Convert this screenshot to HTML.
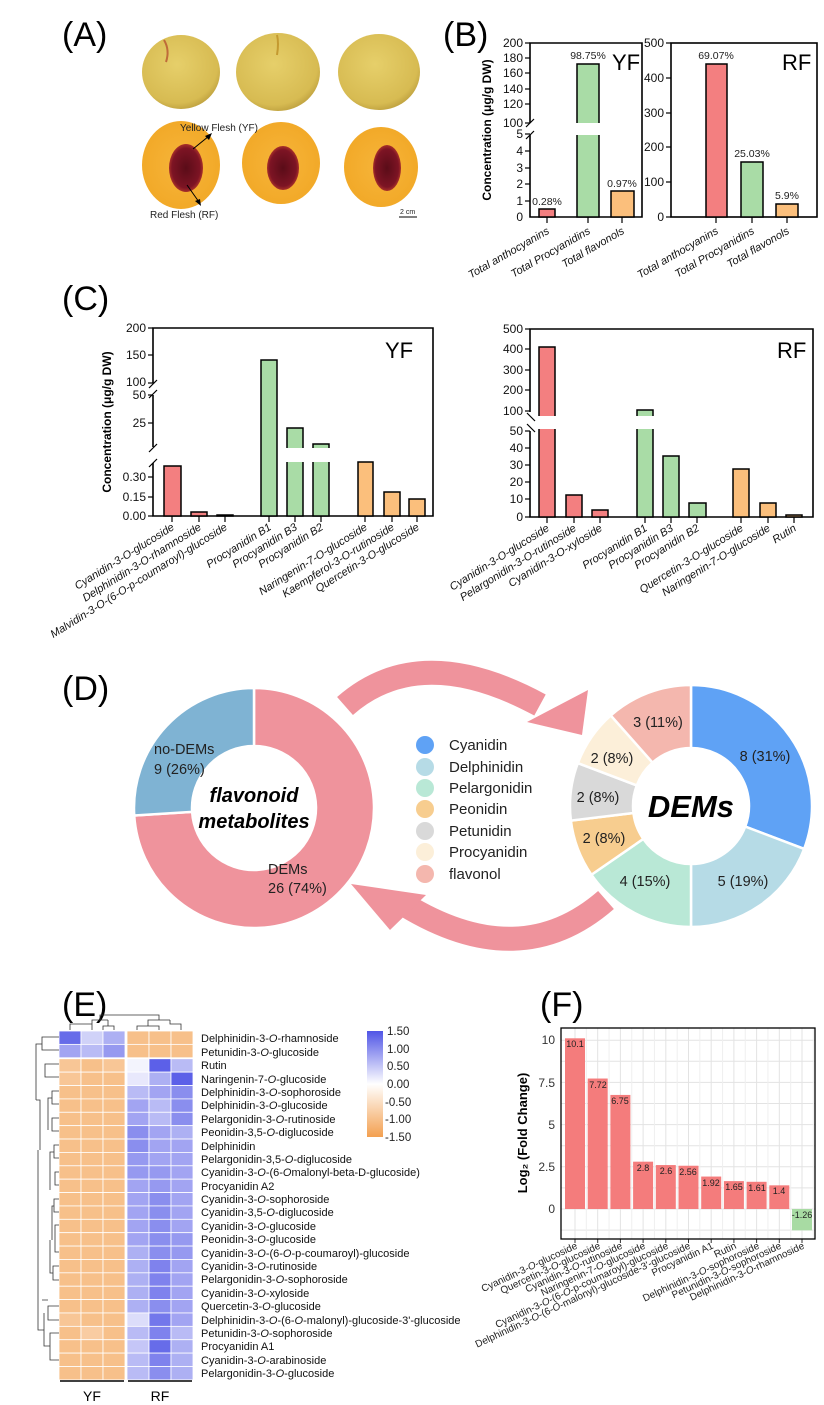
<!DOCTYPE html>
<html><head><meta charset="utf-8">
<style>
html,body{margin:0;padding:0;background:#fff;}
svg{display:block;font-family:"Liberation Sans",Arial,sans-serif;}
.t{font-size:12px;fill:#111}
.lb{font-size:11px;font-style:italic;fill:#111}
.pl{font-size:34px;fill:#000}
</style></head><body>
<svg id="s" width="824" height="1405" viewBox="0 0 824 1405" xmlns="http://www.w3.org/2000/svg">
<rect width="824" height="1405" fill="#fff"/>
<!-- Panel labels -->
<text class="pl" x="62" y="46">(A)</text>
<text class="pl" x="443" y="46">(B)</text>
<text class="pl" x="62" y="310">(C)</text>
<text class="pl" x="62" y="700">(D)</text>
<text class="pl" x="62" y="1016">(E)</text>
<text class="pl" x="540" y="1016">(F)</text>

<!-- Panel A -->
<defs>
<radialGradient id="skin" cx="0.45" cy="0.4" r="0.65"><stop offset="0" stop-color="#e6cf6a"/><stop offset="0.8" stop-color="#d7bb52"/><stop offset="1" stop-color="#b89a3a"/></radialGradient>
<radialGradient id="flesh" cx="0.5" cy="0.5" r="0.6"><stop offset="0" stop-color="#f6b53a"/><stop offset="0.85" stop-color="#f2a928"/><stop offset="1" stop-color="#e6c060"/></radialGradient>
<radialGradient id="stone" cx="0.5" cy="0.5" r="0.55"><stop offset="0" stop-color="#5a0c18"/><stop offset="0.75" stop-color="#7d1424"/><stop offset="1" stop-color="#c0402c"/></radialGradient>
</defs>
<ellipse cx="181" cy="72" rx="39" ry="37" fill="url(#skin)"/>
<ellipse cx="278" cy="72" rx="42" ry="39" fill="url(#skin)"/>
<ellipse cx="379" cy="72" rx="41" ry="38" fill="url(#skin)"/>
<path d="M166 62 q4 -12 -2 -22" stroke="#b0442a" stroke-width="2" fill="none" opacity=".7"/>
<path d="M277 55 q2 -12 0 -20" stroke="#c49a30" stroke-width="2" fill="none"/>
<ellipse cx="181" cy="165" rx="39" ry="44" fill="url(#flesh)"/>
<ellipse cx="281" cy="163" rx="39" ry="41" fill="url(#flesh)"/>
<ellipse cx="381" cy="167" rx="37" ry="40" fill="url(#flesh)"/>
<ellipse cx="186" cy="168" rx="17" ry="24" fill="url(#stone)"/>
<ellipse cx="283" cy="168" rx="16" ry="22" fill="url(#stone)"/>
<ellipse cx="387" cy="168" rx="14" ry="23" fill="url(#stone)"/>
<text x="180" y="131" font-size="10" fill="#222">Yellow Flesh (YF)</text>
<line x1="193" y1="149" x2="209" y2="136" stroke="#000" stroke-width="1"/>
<polygon points="212,133 205,136 209,140" fill="#000"/>
<line x1="187" y1="185" x2="199" y2="202" stroke="#000" stroke-width="1"/>
<polygon points="201,206 195,201 200,199" fill="#000"/>
<text x="150" y="218" font-size="10" fill="#222">Red Flesh (RF)</text>
<text x="400" y="214" font-size="7" fill="#222">2 cm</text>
<line x1="399" y1="217" x2="417" y2="217" stroke="#000" stroke-width="1"/>

<!-- Panel B YF -->
<g stroke="#000" stroke-width="1.6" fill="none">
<path d="M530 123 V43 H642 V217 H530 V135"/>
</g>
<g stroke="#000" stroke-width="1.2">
<line x1="525" y1="43" x2="530" y2="43"/><line x1="525" y1="58" x2="530" y2="58"/><line x1="525" y1="73" x2="530" y2="73"/><line x1="525" y1="89" x2="530" y2="89"/><line x1="525" y1="104" x2="530" y2="104"/><line x1="525" y1="123" x2="530" y2="123"/>
<line x1="525" y1="134" x2="530" y2="134"/><line x1="525" y1="151" x2="530" y2="151"/><line x1="525" y1="168" x2="530" y2="168"/><line x1="525" y1="184" x2="530" y2="184"/><line x1="525" y1="201" x2="530" y2="201"/>
<line x1="526" y1="127" x2="534" y2="119"/><line x1="526" y1="139" x2="534" y2="131"/>
<line x1="547" y1="217" x2="547" y2="223"/><line x1="588" y1="217" x2="588" y2="223"/><line x1="622" y1="217" x2="622" y2="223"/>
</g>
<g class="t" text-anchor="end">
<text x="523" y="47">200</text><text x="523" y="62">180</text><text x="523" y="77">160</text><text x="523" y="93">140</text><text x="523" y="108">120</text><text x="523" y="127">100</text>
<text x="523" y="138">5</text><text x="523" y="155">4</text><text x="523" y="172">3</text><text x="523" y="188">2</text><text x="523" y="205">1</text><text x="523" y="221">0</text>
</g>
<g stroke="#000" stroke-width="1.5">
<rect x="539" y="209" width="16" height="8" fill="#f37f80"/>
<rect x="577" y="64" width="22" height="153" fill="#a9dca6"/>
<rect x="611" y="191" width="23" height="26" fill="#fbbf7c"/>
</g>
<rect x="574" y="123" width="28" height="12" fill="#fff"/>
<g font-size="10.5" fill="#222" text-anchor="middle">
<text x="547" y="205">0.28%</text><text x="588" y="59">98.75%</text><text x="622" y="187">0.97%</text>
</g>
<text x="612" y="70" font-size="22" fill="#000">YF</text>
<text transform="translate(491,130) rotate(-90)" text-anchor="middle" font-size="12" font-weight="bold">Concentration (μg/g DW)</text>
<g class="lb" text-anchor="end">
<text transform="translate(550,233) rotate(-30)">Total anthocyanins</text>
<text transform="translate(591,233) rotate(-30)">Total Procyanidins</text>
<text transform="translate(625,233) rotate(-30)">Total flavonols</text>
</g>

<!-- Panel B RF -->
<rect x="671" y="43" width="146" height="174" fill="none" stroke="#000" stroke-width="1.6"/>
<g stroke="#000" stroke-width="1.2">
<line x1="666" y1="43" x2="671" y2="43"/><line x1="666" y1="78" x2="671" y2="78"/><line x1="666" y1="113" x2="671" y2="113"/><line x1="666" y1="147" x2="671" y2="147"/><line x1="666" y1="182" x2="671" y2="182"/><line x1="666" y1="217" x2="671" y2="217"/>
<line x1="716" y1="217" x2="716" y2="223"/><line x1="752" y1="217" x2="752" y2="223"/><line x1="787" y1="217" x2="787" y2="223"/>
</g>
<g class="t" text-anchor="end">
<text x="664" y="47">500</text><text x="664" y="82">400</text><text x="664" y="117">300</text><text x="664" y="151">200</text><text x="664" y="186">100</text><text x="664" y="221">0</text>
</g>
<g stroke="#000" stroke-width="1.5">
<rect x="706" y="64" width="21" height="153" fill="#f37f80"/>
<rect x="741" y="162" width="22" height="55" fill="#a9dca6"/>
<rect x="776" y="204" width="22" height="13" fill="#fbbf7c"/>
</g>
<g font-size="10.5" fill="#222" text-anchor="middle">
<text x="716" y="59">69.07%</text><text x="752" y="157">25.03%</text><text x="787" y="199">5.9%</text>
</g>
<text x="782" y="70" font-size="22" fill="#000">RF</text>
<g class="lb" text-anchor="end">
<text transform="translate(719,233) rotate(-30)">Total anthocyanins</text>
<text transform="translate(755,233) rotate(-30)">Total Procyanidins</text>
<text transform="translate(790,233) rotate(-30)">Total flavonols</text>
</g>

<!-- Panel C YF -->
<path d="M153 383 V328 H433 V516 H153 V463" fill="none" stroke="#000" stroke-width="1.6"/>
<line x1="153" y1="395" x2="153" y2="447" stroke="#000" stroke-width="1.6"/>
<g stroke="#000" stroke-width="1.2">
<line x1="148" y1="328" x2="153" y2="328"/><line x1="148" y1="355" x2="153" y2="355"/><line x1="148" y1="383" x2="153" y2="383"/><line x1="148" y1="395" x2="153" y2="395"/><line x1="148" y1="423" x2="153" y2="423"/><line x1="148" y1="477" x2="153" y2="477"/><line x1="148" y1="497" x2="153" y2="497"/><line x1="148" y1="516" x2="153" y2="516"/>
<line x1="149" y1="388" x2="157" y2="380"/><line x1="149" y1="398" x2="157" y2="390"/>
<line x1="149" y1="452" x2="157" y2="444"/><line x1="149" y1="467" x2="157" y2="459"/>
<line x1="172" y1="516" x2="172" y2="522"/><line x1="199" y1="516" x2="199" y2="522"/><line x1="225" y1="516" x2="225" y2="522"/><line x1="269" y1="516" x2="269" y2="522"/><line x1="295" y1="516" x2="295" y2="522"/><line x1="321" y1="516" x2="321" y2="522"/><line x1="365" y1="516" x2="365" y2="522"/><line x1="392" y1="516" x2="392" y2="522"/><line x1="417" y1="516" x2="417" y2="522"/>
</g>
<g class="t" text-anchor="end">
<text x="146" y="332">200</text><text x="146" y="359">150</text><text x="146" y="386">100</text><text x="146" y="399">50</text><text x="146" y="427">25</text><text x="146" y="481">0.30</text><text x="146" y="501">0.15</text><text x="146" y="520">0.00</text>
</g>
<g stroke="#000" stroke-width="1.5">
<rect x="164" y="466" width="17" height="50" fill="#f37f80"/>
<rect x="191" y="512" width="16" height="4" fill="#f37f80"/>
<rect x="217" y="515" width="16" height="1" fill="#f37f80"/>
<rect x="261" y="360" width="16" height="156" fill="#a9dca6"/>
<rect x="287" y="428" width="16" height="88" fill="#a9dca6"/>
<rect x="313" y="444" width="16" height="72" fill="#a9dca6"/>
<rect x="358" y="462" width="15" height="54" fill="#fbbf7c"/>
<rect x="384" y="492" width="16" height="24" fill="#fbbf7c"/>
<rect x="409" y="499" width="16" height="17" fill="#fbbf7c"/>
</g>
<rect x="284" y="448" width="48" height="14" fill="#fff"/>
<text x="385" y="358" font-size="22" fill="#000">YF</text>
<text transform="translate(111,422) rotate(-90)" text-anchor="middle" font-size="12" font-weight="bold">Concentration (μg/g DW)</text>
<g class="lb" text-anchor="end" font-size="10.5">
<text transform="translate(175,529) rotate(-32)">Cyanidin-3-O-glucoside</text>
<text transform="translate(202,529) rotate(-32)">Delphinidin-3-O-rhamnoside</text>
<text transform="translate(228,529) rotate(-32)">Malvidin-3-O-(6-O-p-coumaroyl)-glucoside</text>
<text transform="translate(272,529) rotate(-32)">Procyanidin B1</text>
<text transform="translate(298,529) rotate(-32)">Procyanidin B3</text>
<text transform="translate(324,529) rotate(-32)">Procyanidin B2</text>
<text transform="translate(368,529) rotate(-32)">Naringenin-7-O-glucoside</text>
<text transform="translate(395,529) rotate(-32)">Kaempferol-3-O-rutinoside</text>
<text transform="translate(420,529) rotate(-32)">Quercetin-3-O-glucoside</text>
</g>

<!-- Panel C RF -->
<path d="M530 412 V329 H813 V517 H530 V431" fill="none" stroke="#000" stroke-width="1.6"/>
<g stroke="#000" stroke-width="1.2">
<line x1="525" y1="329" x2="530" y2="329"/><line x1="525" y1="349" x2="530" y2="349"/><line x1="525" y1="370" x2="530" y2="370"/><line x1="525" y1="390" x2="530" y2="390"/><line x1="525" y1="411" x2="530" y2="411"/>
<line x1="525" y1="431" x2="530" y2="431"/><line x1="525" y1="448" x2="530" y2="448"/><line x1="525" y1="465" x2="530" y2="465"/><line x1="525" y1="482" x2="530" y2="482"/><line x1="525" y1="499" x2="530" y2="499"/><line x1="525" y1="517" x2="530" y2="517"/>
<line x1="527" y1="413" x2="535" y2="421"/><line x1="527" y1="424" x2="535" y2="432"/>
<line x1="547" y1="517" x2="547" y2="523"/><line x1="574" y1="517" x2="574" y2="523"/><line x1="600" y1="517" x2="600" y2="523"/><line x1="645" y1="517" x2="645" y2="523"/><line x1="671" y1="517" x2="671" y2="523"/><line x1="697" y1="517" x2="697" y2="523"/><line x1="741" y1="517" x2="741" y2="523"/><line x1="768" y1="517" x2="768" y2="523"/><line x1="794" y1="517" x2="794" y2="523"/>
</g>
<g class="t" text-anchor="end">
<text x="523" y="333">500</text><text x="523" y="353">400</text><text x="523" y="374">300</text><text x="523" y="394">200</text><text x="523" y="415">100</text>
<text x="523" y="435">50</text><text x="523" y="452">40</text><text x="523" y="469">30</text><text x="523" y="486">20</text><text x="523" y="503">10</text><text x="523" y="521">0</text>
</g>
<g stroke="#000" stroke-width="1.5">
<rect x="539" y="347" width="16" height="170" fill="#f37f80"/>
<rect x="566" y="495" width="16" height="22" fill="#f37f80"/>
<rect x="592" y="510" width="16" height="7" fill="#f37f80"/>
<rect x="637" y="410" width="16" height="107" fill="#a9dca6"/>
<rect x="663" y="456" width="16" height="61" fill="#a9dca6"/>
<rect x="689" y="503" width="17" height="14" fill="#a9dca6"/>
<rect x="733" y="469" width="16" height="48" fill="#fbbf7c"/>
<rect x="760" y="503" width="16" height="14" fill="#fbbf7c"/>
<rect x="786" y="515" width="16" height="2" fill="#fbbf7c"/>
</g>
<rect x="536" y="416" width="22" height="13" fill="#fff"/>
<rect x="634" y="416" width="22" height="13" fill="#fff"/>
<text x="777" y="358" font-size="22" fill="#000">RF</text>
<g class="lb" text-anchor="end" font-size="10.5">
<text transform="translate(550,530) rotate(-32)">Cyanidin-3-O-glucoside</text>
<text transform="translate(577,530) rotate(-32)">Pelargonidin-3-O-rutinoside</text>
<text transform="translate(603,530) rotate(-32)">Cyanidin-3-O-xyloside</text>
<text transform="translate(648,530) rotate(-32)">Procyanidin B1</text>
<text transform="translate(674,530) rotate(-32)">Procyanidin B3</text>
<text transform="translate(700,530) rotate(-32)">Procyanidin B2</text>
<text transform="translate(744,530) rotate(-32)">Quercetin-3-O-glucoside</text>
<text transform="translate(771,530) rotate(-32)">Naringenin-7-O-glucoside</text>
<text transform="translate(797,530) rotate(-32)">Rutin</text>
</g>

<!-- Panel D -->
<g id="donuts"></g>
<path d="M345 706 Q420 640 540 705" stroke="#ef939c" stroke-width="24" fill="none"/>
<polygon points="527,722 588,690 582,735" fill="#ef939c"/>
<path d="M606 900 Q520 975 405 905" stroke="#ef939c" stroke-width="24" fill="none"/>
<polygon points="351,884 426,895 390,930" fill="#ef939c"/>
<g font-size="14.5" fill="#222">
<text x="154" y="754">no-DEMs</text><text x="154" y="774">9 (26%)</text>
<text x="268" y="874">DEMs</text><text x="268" y="893">26 (74%)</text>
</g>
<g font-size="20" font-weight="bold" font-style="italic" text-anchor="middle" fill="#000">
<text x="254" y="802">flavonoid</text><text x="254" y="828">metabolites</text>
</g>
<text x="691" y="817" font-size="31" font-weight="bold" font-style="italic" text-anchor="middle">DEMs</text>
<g font-size="14.5" fill="#222" text-anchor="middle">
<text x="658" y="727">3 (11%)</text><text x="765" y="761">8 (31%)</text><text x="612" y="763">2 (8%)</text>
<text x="598" y="802">2 (8%)</text><text x="604" y="843">2 (8%)</text><text x="645" y="886">4 (15%)</text><text x="743" y="886">5 (19%)</text>
</g>
<g font-size="15" fill="#222">
<circle cx="425" cy="745" r="9" fill="#5fa2f5"/><text x="449" y="750">Cyanidin</text>
<circle cx="425" cy="767" r="9" fill="#b6dbe6"/><text x="449" y="772">Delphinidin</text>
<circle cx="425" cy="788" r="9" fill="#b9e8d6"/><text x="449" y="793">Pelargonidin</text>
<circle cx="425" cy="809" r="9" fill="#f7cd8f"/><text x="449" y="814">Peonidin</text>
<circle cx="425" cy="831" r="9" fill="#d9d9d9"/><text x="449" y="836">Petunidin</text>
<circle cx="425" cy="852" r="9" fill="#fcefd9"/><text x="449" y="857">Procyanidin</text>
<circle cx="425" cy="874" r="9" fill="#f4b7ae"/><text x="449" y="879">flavonol</text>
</g>

<!-- Panel E -->
<g id="heat"></g>
<g stroke="#333" stroke-width="0.8" fill="none">
<path d="M70 1030 V1024 H92 V1030 M92 1024 V1020 H108 M114 1030 V1026 H103 V1030 M108 1026 V1020"/>
<path d="M137 1030 V1026 H159 V1030 M148 1026 V1020 H170 M181 1030 V1024 H170 V1020"/>
<path d="M100 1020 V1015 H159 V1020"/>
<path d="M59 1037 H42 V1050 H59 M42 1044 H36 V1100 M59 1064 H45 V1077 H59 M59 1091 H52 V1104 H59 M52 1098 H48 V1130 M59 1118 H52 V1131 H59 M59 1145 H54 V1158 H59 M54 1152 H50 V1190 M59 1172 H55 V1185 H59 M59 1199 H54 V1212 H59 M54 1206 H52 V1240 M59 1225 H55 V1252 H59 M59 1266 H53 V1280 H59 M53 1273 H50 V1240 M59 1306 H48 V1320 H59 M59 1333 H50 V1360 H59 M50 1346 H44 V1313 M36 1100 H40 V1150 M44 1330 H38 V1150 M48 1300 H42"/>
</g>
<defs><linearGradient id="cb" x1="0" y1="0" x2="0" y2="1"><stop offset="0" stop-color="#5055e6"/><stop offset="0.5" stop-color="#ffffff"/><stop offset="1" stop-color="#f3a050"/></linearGradient></defs>
<rect x="367" y="1031" width="16" height="106" fill="url(#cb)"/>
<g font-size="11.5" fill="#222">
<text x="387" y="1035">1.50</text><text x="387" y="1053">1.00</text><text x="387" y="1070">0.50</text><text x="387" y="1088">0.00</text><text x="385" y="1106">-0.50</text><text x="385" y="1123">-1.00</text><text x="385" y="1141">-1.50</text>
</g>
<g font-size="11" fill="#111">
<text x="201" y="1042">Delphinidin-3-<tspan font-style="italic">O</tspan>-rhamnoside</text>
<text x="201" y="1056">Petunidin-3-<tspan font-style="italic">O</tspan>-glucoside</text>
<text x="201" y="1069">Rutin</text>
<text x="201" y="1083">Naringenin-7-<tspan font-style="italic">O</tspan>-glucoside</text>
<text x="201" y="1096">Delphinidin-3-<tspan font-style="italic">O</tspan>-sophoroside</text>
<text x="201" y="1109">Delphinidin-3-<tspan font-style="italic">O</tspan>-glucoside</text>
<text x="201" y="1123">Pelargonidin-3-<tspan font-style="italic">O</tspan>-rutinoside</text>
<text x="201" y="1136">Peonidin-3,5-<tspan font-style="italic">O</tspan>-diglucoside</text>
<text x="201" y="1150">Delphinidin</text>
<text x="201" y="1163">Pelargonidin-3,5-<tspan font-style="italic">O</tspan>-diglucoside</text>
<text x="201" y="1176">Cyanidin-3-<tspan font-style="italic">O</tspan>-(6-<tspan font-style="italic">O</tspan>malonyl-beta-D-glucoside)</text>
<text x="201" y="1190">Procyanidin A2</text>
<text x="201" y="1203">Cyanidin-3-<tspan font-style="italic">O</tspan>-sophoroside</text>
<text x="201" y="1216">Cyanidin-3,5-<tspan font-style="italic">O</tspan>-diglucoside</text>
<text x="201" y="1230">Cyanidin-3-<tspan font-style="italic">O</tspan>-glucoside</text>
<text x="201" y="1243">Peonidin-3-<tspan font-style="italic">O</tspan>-glucoside</text>
<text x="201" y="1257">Cyanidin-3-<tspan font-style="italic">O</tspan>-(6-<tspan font-style="italic">O</tspan>-p-coumaroyl)-glucoside</text>
<text x="201" y="1270">Cyanidin-3-<tspan font-style="italic">O</tspan>-rutinoside</text>
<text x="201" y="1283">Pelargonidin-3-<tspan font-style="italic">O</tspan>-sophoroside</text>
<text x="201" y="1297">Cyanidin-3-<tspan font-style="italic">O</tspan>-xyloside</text>
<text x="201" y="1310">Quercetin-3-<tspan font-style="italic">O</tspan>-glucoside</text>
<text x="201" y="1324">Delphinidin-3-<tspan font-style="italic">O</tspan>-(6-<tspan font-style="italic">O</tspan>-malonyl)-glucoside-3'-glucoside</text>
<text x="201" y="1337">Petunidin-3-<tspan font-style="italic">O</tspan>-sophoroside</text>
<text x="201" y="1350">Procyanidin A1</text>
<text x="201" y="1364">Cyanidin-3-<tspan font-style="italic">O</tspan>-arabinoside</text>
<text x="201" y="1377">Pelargonidin-3-<tspan font-style="italic">O</tspan>-glucoside</text>
</g>
<line x1="60" y1="1381" x2="124" y2="1381" stroke="#000" stroke-width="1.5"/>
<line x1="128" y1="1381" x2="192" y2="1381" stroke="#000" stroke-width="1.5"/>
<text x="92" y="1401" font-size="14" text-anchor="middle">YF</text>
<text x="160" y="1401" font-size="14" text-anchor="middle">RF</text>

<!-- Panel F -->
<rect x="561" y="1028" width="254" height="211" fill="#fff"/>
<g id="fgrid" stroke="#e3e3e3" stroke-width="1"></g>
<g id="fbars"></g>
<rect x="561" y="1028" width="254" height="211" fill="none" stroke="#000" stroke-width="1.3"/>
<g font-size="12" fill="#333" text-anchor="end">
<text x="555" y="1044">10</text><text x="555" y="1087">7.5</text><text x="555" y="1129">5</text><text x="555" y="1171">2.5</text><text x="555" y="1213">0</text>
</g>
<text transform="translate(527,1133) rotate(-90)" text-anchor="middle" font-size="13" font-weight="bold">Log₂ (Fold Change)</text>
<g font-size="9" fill="#222" text-anchor="middle">
<text x="575" y="1047">10.1</text><text x="598" y="1088">7.72</text><text x="620" y="1104">6.75</text><text x="643" y="1171">2.8</text><text x="666" y="1174">2.6</text><text x="688" y="1175">2.56</text><text x="711" y="1186">1.92</text><text x="734" y="1190">1.65</text><text x="757" y="1191">1.61</text><text x="779" y="1194">1.4</text><text x="802" y="1218">-1.26</text>
</g>
<g font-size="10" fill="#222" text-anchor="end">
<text transform="translate(578,1248) rotate(-25)">Cyanidin-3-<tspan font-style="italic">O</tspan>-glucoside</text>
<text transform="translate(601,1248) rotate(-25)">Quercetin-3-<tspan font-style="italic">O</tspan>-glucoside</text>
<text transform="translate(623,1248) rotate(-25)">Cyanidin-3-<tspan font-style="italic">O</tspan>-rutinoside</text>
<text transform="translate(646,1248) rotate(-25)">Naringenin-7-<tspan font-style="italic">O</tspan>-glucoside</text>
<text transform="translate(669,1248) rotate(-25)">Cyanidin-3-<tspan font-style="italic">O</tspan>-(6-<tspan font-style="italic">O</tspan>-p-coumaroyl)-glucoside</text>
<text transform="translate(691,1248) rotate(-25)">Delphinidin-3-<tspan font-style="italic">O</tspan>-(6-<tspan font-style="italic">O</tspan>-malonyl)-glucoside-3'-glucoside</text>
<text transform="translate(714,1248) rotate(-25)">Procyanidin A1</text>
<text transform="translate(737,1248) rotate(-25)">Rutin</text>
<text transform="translate(760,1248) rotate(-25)">Delphinidin-3-<tspan font-style="italic">O</tspan>-sophoroside</text>
<text transform="translate(782,1248) rotate(-25)">Petunidin-3-<tspan font-style="italic">O</tspan>-sophoroside</text>
<text transform="translate(805,1248) rotate(-25)">Delphinidin-3-<tspan font-style="italic">O</tspan>-rhamnoside</text>
</g>
</svg>
<script>
(function(){
var NS="http://www.w3.org/2000/svg";
function el(p,t,a){var e=document.createElementNS(NS,t);for(var k in a)e.setAttribute(k,a[k]);p.appendChild(e);return e;}
var dg=document.getElementById('donuts');
function arc(cx,cy,R,r,a0,a1,fill){
 function pt(rad,a){var t=(a-0.25)*2*Math.PI;return [cx+rad*Math.cos(t),cy+rad*Math.sin(t)];}
 var large=(a1-a0)>0.5?1:0;var p1=pt(R,a0),p2=pt(R,a1),p3=pt(r,a1),p4=pt(r,a0);
 var d="M"+p1+" A"+R+" "+R+" 0 "+large+" 1 "+p2+" L"+p3+" A"+r+" "+r+" 0 "+large+" 0 "+p4+"Z";
 el(dg,'path',{d:d,fill:fill,stroke:'#fff','stroke-width':2.5});
}
arc(254,808,120,62,0,0.74,'#ef939c');arc(254,808,120,62,0.74,1,'#7fb3d3');
var v=[8,5,4,2,2,2,3],c=['#5fa2f5','#b6dbe6','#b9e8d6','#f7cd8f','#d9d9d9','#fcefd9','#f4b7ae'],s=0;
for(var i=0;i<7;i++){arc(691,806,121,58,s/26,(s+v[i])/26,c[i]);s+=v[i];}
var hg=document.getElementById('heat');
function col(x){var w=[255,255,255],e=x<0?[243,160,80]:[80,85,230];var f=Math.min(Math.abs(x)/1.5,1);
 return 'rgb('+w.map(function(q,j){return Math.round(q+(e[j]-q)*f)}).join(',')+')';}
var rows=[[1.3,0.4,0.7,-1,-1,-1],[0.8,0.6,0.9,-1,-1,-1],[-0.9,-1,-0.9,0.1,1.4,0.6],[-0.9,-1,-1,0.2,0.7,1.4],
[-1,-1,-1,0.6,0.8,1.0],[-1,-1,-1,0.8,0.6,1.0],[-1,-1,-1,0.8,0.6,1.0],[-1,-1,-1,1.0,0.8,0.7],[-1,-1,-1,1.0,0.8,0.8],[-1,-1,-1,0.9,0.8,0.8],
[-1,-1,-1,0.9,0.9,0.8],[-1,-1,-1,0.8,0.9,0.8],[-1,-1,-1,0.8,1.0,0.8],[-1,-1,-1,0.8,1.0,0.8],[-1,-1,-1,0.8,1.0,0.8],[-1,-1,-1,0.8,1.0,0.9],
[-1,-1,-1,0.7,1.0,0.9],[-1,-1,-1,0.7,1.1,0.8],[-1,-1,-1,0.7,1.1,0.8],[-1,-1,-1,0.7,1.1,0.8],[-1,-1,-1,0.7,1.0,0.8],
[-0.9,-1,-1,0.3,1.2,0.8],[-1,-0.8,-1,0.6,1.1,0.6],[-1,-1,-1,0.5,1.3,0.7],[-1,-1,-1,0.6,1.1,0.7],[-1,-1,-1,0.6,1.0,0.7]];
var xs=[59,81,103,127,149,171];
for(var r=0;r<26;r++){var y=1031+r*13.38+(r>=2?1:0);for(var k=0;k<6;k++){
 el(hg,'rect',{x:xs[k],y:y,width:22,height:13.38,fill:col(rows[r][k]),stroke:'#fff','stroke-width':0.8});}}
var fg=document.getElementById('fgrid');
for(var i=-1;i<=8;i++){var y=1209-i*21.1;if(y>1029&&y<1239)el(fg,'line',{x1:561,x2:815,y1:y,y2:y});}
for(var i=0;i<11;i++){var x=575+22.7*i;el(fg,'line',{x1:x,x2:x,y1:1028,y2:1239});el(fg,'line',{x1:x+11.35,x2:x+11.35,y1:1028,y2:1239,stroke:'#efefef'});}
var fb=document.getElementById('fbars');var vals=[10.1,7.72,6.75,2.8,2.6,2.56,1.92,1.65,1.61,1.4,-1.26];
for(var i=0;i<11;i++){var x=575+22.7*i-10,v=vals[i],h=Math.abs(v)*16.9;
 el(fb,'rect',{x:x,y:v>0?1209-h:1209,width:20,height:h,fill:v>0?'#f47c7c':'#a8dba3'});
 el(fb,'line',{x1:x+10,x2:x+10,y1:1239,y2:1243,stroke:'#333'});}
})();
</script>
</body></html>
